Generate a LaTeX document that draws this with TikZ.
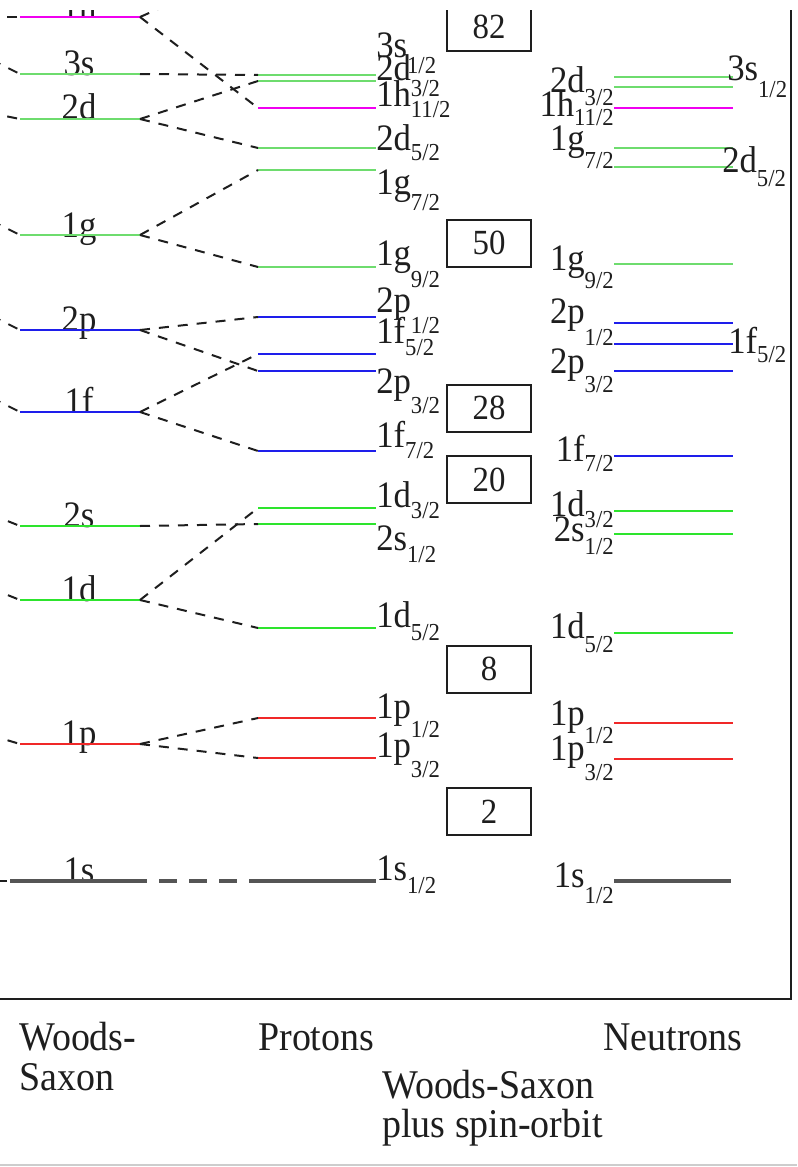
\documentclass[tikz,border=0pt]{standalone}
\usepackage{fontspec}
\setmainfont{Liberation Serif}[FakeStretch=0.93]
\newlength\pxu \setlength\pxu{0.75pt}
\definecolor{lgreen}{RGB}{110,220,110}
\definecolor{bgreen}{RGB}{45,228,45}
\definecolor{lblue}{RGB}{30,30,235}
\definecolor{lred}{RGB}{240,40,40}
\definecolor{lmag}{RGB}{240,0,240}
\definecolor{lgray}{RGB}{85,85,85}
\definecolor{ink}{RGB}{30,30,30}
\definecolor{pagegray}{RGB}{205,205,205}
\newcommand\labfnt{\fontsize{28}{30}\selectfont}
\newcommand\subfnt{\fontsize{18.3}{20}\selectfont}
\newcommand\botfnt{\fontsize{30.6}{34}\selectfont}
\newcommand\lv[3]{#1\raisebox{-#3\pxu}{\subfnt #2}}
\newcommand\wslev[3]{\coordinate (W#1L) at (20,#2); \coordinate (W#1R) at (140,#2); \draw[lvl,#3] (W#1L) -- (W#1R);}
\newcommand\plev[3]{\coordinate (P#1L) at (258,#2); \coordinate (P#1R) at (376,#2); \draw[lvl,#3] (P#1L) -- (P#1R);}
\newcommand\nlev[3]{\coordinate (N#1L) at (614,#2); \coordinate (N#1R) at (733,#2); \draw[lvl,#3] (N#1L) -- (N#1R);}
\tikzset{
 lvl/.style={line width=1.7pt},
 conn/.style={draw=ink, line width=1.5pt, dash pattern=on 7.5pt off 6.75pt},
 stub/.style={draw=ink, line width=1.5pt, dash pattern=on 7.5pt off 6.75pt, dash phase=12pt},
 wslab/.style={font=\labfnt, text=ink, inner sep=0pt, anchor=base},
 plab/.style={font=\labfnt, text=ink, inner sep=0pt, anchor=base west},
 nlab/.style={font=\labfnt, text=ink, inner sep=0pt, anchor=base east},
 magic/.style={draw=ink, line width=1.5pt, minimum width=63pt, minimum height=35.25pt, inner sep=0pt, font=\fontsize{26.5}{28}\selectfont, text=ink},
 botlab/.style={font=\botfnt, text=ink, inner sep=0pt, anchor=base west},
}
\begin{document}
\begin{tikzpicture}[x=0.75pt, y=-0.75pt]
\useasboundingbox (0,0) rectangle (797,1167);
\begin{scope}
\clip (0,10) rectangle (797,1167);
% frame
\coordinate (FT) at (791,0);
\coordinate (FC) at (791,999);
\coordinate (FL) at (-10,999);
\draw[ink, line width=2pt] (FT) -- (FC) -- (FL);
% Woods-Saxon labels
\node[wslab] (W1hT) at (79,18) {1h};
\node[wslab] (W3sT) at (79,75) {3s};
\node[wslab] (W2dT) at (79,119) {2d};
\node[wslab] (W1gT) at (79,237) {1g};
\node[wslab] (W2pT) at (79,331) {2p};
\node[wslab] (W1fT) at (79,413) {1f};
\node[wslab] (W2sT) at (79,527) {2s};
\node[wslab] (W1dT) at (79,601) {1d};
\node[wslab] (W1pT) at (79,745) {1p};
\node[wslab] (W1sT) at (79,882) {1s};
% Woods-Saxon levels
\wslev{1h}{17}{lmag}
\wslev{3s}{74}{lgreen}
\wslev{2d}{119}{lgreen}
\wslev{1g}{235}{lgreen}
\wslev{2p}{330}{lblue}
\wslev{1f}{412}{lblue}
\wslev{2s}{526}{bgreen}
\wslev{1d}{600}{bgreen}
\wslev{1p}{744}{lred}
\coordinate (W1sL) at (10,881); \coordinate (W1sR) at (147,881);
\draw[lgray, line width=2.4pt] (W1sL) -- (W1sR);
% stubs from the column further left
\coordinate (X1h) at (-60,17);
\coordinate (X3s) at (-60,34);
\coordinate (X2d) at (-60,103);
\coordinate (X1g) at (-60,195);
\coordinate (X2p) at (-60,290);
\coordinate (X1f) at (-60,372);
\coordinate (X2s) at (-60,494);
\coordinate (X1d) at (-60,568);
\coordinate (X1p) at (-60,720);
\coordinate (X1s) at (-60,881);
\foreach \n in {1h,3s,2d,1g,2p,1f,2s,1d,1p} {\draw[stub] (W\n L) -- (X\n);}
\draw[stub] (W1sL) -- (X1s);
% proton levels
\plev{3s}{75}{lgreen}
\plev{2dt}{81}{lgreen}
\plev{1he}{108}{lmag}
\plev{2df}{148}{lgreen}
\plev{1gs}{170}{lgreen}
\plev{1gn}{267}{lgreen}
\plev{2po}{317}{lblue}
\plev{1ff}{354}{lblue}
\plev{2pt}{371}{lblue}
\plev{1fs}{451}{lblue}
\plev{1dt}{508}{bgreen}
\plev{2s}{524}{bgreen}
\plev{1df}{628}{bgreen}
\plev{1po}{718}{lred}
\plev{1pt}{758}{lred}
\coordinate (P1sL) at (249,881); \coordinate (P1sR) at (376,881);
\draw[lgray, line width=2.4pt] (P1sL) -- (P1sR);
\coordinate (P1hnL) at (258,-35);
% connectors
\draw[conn] (W1hR) -- (P1heL);
\draw[conn] (W1hR) -- (P1hnL);
\draw[conn] (W3sR) -- (P3sL);
\draw[conn] (W2dR) -- (P2dtL);
\draw[conn] (W2dR) -- (P2dfL);
\draw[conn] (W1gR) -- (P1gsL);
\draw[conn] (W1gR) -- (P1gnL);
\draw[conn] (W2pR) -- (P2poL);
\draw[conn] (W2pR) -- (P2ptL);
\draw[conn] (W1fR) -- (P1ffL);
\draw[conn] (W1fR) -- (P1fsL);
\draw[conn] (W2sR) -- (P2sL);
\draw[conn] (W1dR) -- (P1dtL);
\draw[conn] (W1dR) -- (P1dfL);
\draw[conn] (W1pR) -- (P1poL);
\draw[conn] (W1pR) -- (P1ptL);
\draw[lgray, line width=2.4pt, dash pattern=on 13.5pt off 9pt, dash phase=13.5pt] (W1sR) -- (P1sL);
% proton labels
\node[plab] (P3sT) at (376,57) {\lv{3s}{1/2}{16}};
\node[plab] (P2dtT) at (376,80) {\lv{2d}{3/2}{16}};
\node[plab] (P1heT) at (376,106) {\lv{1h}{11/2}{11}};
\node[plab] (P2dfT) at (376,150) {\lv{2d}{5/2}{10}};
\node[plab] (P1gsT) at (376,194) {\lv{1g}{7/2}{16}};
\node[plab] (P1gnT) at (376,265) {\lv{1g}{9/2}{22}};
\node[plab] (P2poT) at (376,312) {\lv{2p}{1/2}{21}};
\node[plab] (P1ffT) at (376,343) {\lv{1f}{5/2}{12}};
\node[plab] (P2ptT) at (376,393) {\lv{2p}{3/2}{20}};
\node[plab] (P1fsT) at (376,447) {\lv{1f}{7/2}{11}};
\node[plab] (P1dtT) at (376,507) {\lv{1d}{3/2}{11}};
\node[plab] (P2sT) at (376,550) {\lv{2s}{1/2}{12}};
\node[plab] (P1dfT) at (376,627) {\lv{1d}{5/2}{13}};
\node[plab] (P1poT) at (376,718) {\lv{1p}{1/2}{19}};
\node[plab] (P1ptT) at (376,757) {\lv{1p}{3/2}{20}};
\node[plab] (P1sT) at (376,880) {\lv{1s}{1/2}{13}};
% magic numbers
\node[magic] (M82) at (489,27) {82};
\node[magic] (M50) at (489,243) {50};
\node[magic] (M28) at (489,408) {28};
\node[magic] (M20) at (489,479.5) {20};
\node[magic] (M8) at (489,669) {8};
\node[magic] (M2) at (489,811.5) {2};
% neutron levels
\nlev{3s}{77}{lgreen}
\nlev{2dt}{87}{lgreen}
\nlev{1he}{108}{lmag}
\nlev{1gs}{148}{lgreen}
\nlev{2df}{167}{lgreen}
\nlev{1gn}{264}{lgreen}
\nlev{2po}{323}{lblue}
\nlev{1ff}{344}{lblue}
\nlev{2pt}{371}{lblue}
\nlev{1fs}{456}{lblue}
\nlev{1dt}{511}{bgreen}
\nlev{2s}{534}{bgreen}
\nlev{1df}{633}{bgreen}
\nlev{1po}{723}{lred}
\nlev{1pt}{759}{lred}
\coordinate (N1sL) at (614,881); \coordinate (N1sR) at (731,881);
\draw[lgray, line width=2.4pt] (N1sL) -- (N1sR);
% neutron labels
\node[plab] (N3sT) at (727,80) {\lv{3s}{1/2}{17}};
\node[nlab] (N2dtT) at (614,92) {\lv{2d}{3/2}{13}};
\node[nlab] (N1heT) at (614,116) {\lv{1h}{11/2}{9}};
\node[nlab] (N1gsT) at (614,150) {\lv{1g}{7/2}{18}};
\node[plab] (N2dfT) at (722,172) {\lv{2d}{5/2}{14}};
\node[nlab] (N1gnT) at (614,270) {\lv{1g}{9/2}{18}};
\node[nlab] (N2poT) at (614,323) {\lv{2p}{1/2}{22}};
\node[plab] (N1ffT) at (728,353) {\lv{1f}{5/2}{9}};
\node[nlab] (N2ptT) at (614,373) {\lv{2p}{3/2}{19}};
\node[nlab] (N1fsT) at (614,461) {\lv{1f}{7/2}{10}};
\node[nlab] (N1dtT) at (614,516) {\lv{1d}{3/2}{11}};
\node[nlab] (N2sT) at (614,541) {\lv{2s}{1/2}{13}};
\node[nlab] (N1dfT) at (614,638) {\lv{1d}{5/2}{14}};
\node[nlab] (N1poT) at (614,725) {\lv{1p}{1/2}{18}};
\node[nlab] (N1ptT) at (614,760) {\lv{1p}{3/2}{20}};
\node[nlab] (N1sT) at (614,887) {\lv{1s}{1/2}{16}};
% bottom captions
\node[botlab] (CWS1) at (19,1050) {Woods-};
\node[botlab] (CWS2) at (19,1090) {Saxon};
\node[botlab] (CPro) at (258,1050) {Protons};
\node[botlab] (CNeu) at (603,1050) {Neutrons};
\node[botlab] (CSO1) at (382,1098) {Woods-Saxon};
\node[botlab] (CSO2) at (382,1137) {plus spin-orbit};
% page edge
\coordinate (GL) at (0,1165); \coordinate (GR) at (797,1165);
\draw[pagegray, line width=1.5pt] (GL) -- (GR);
\end{scope}
\end{tikzpicture}
\end{document}
